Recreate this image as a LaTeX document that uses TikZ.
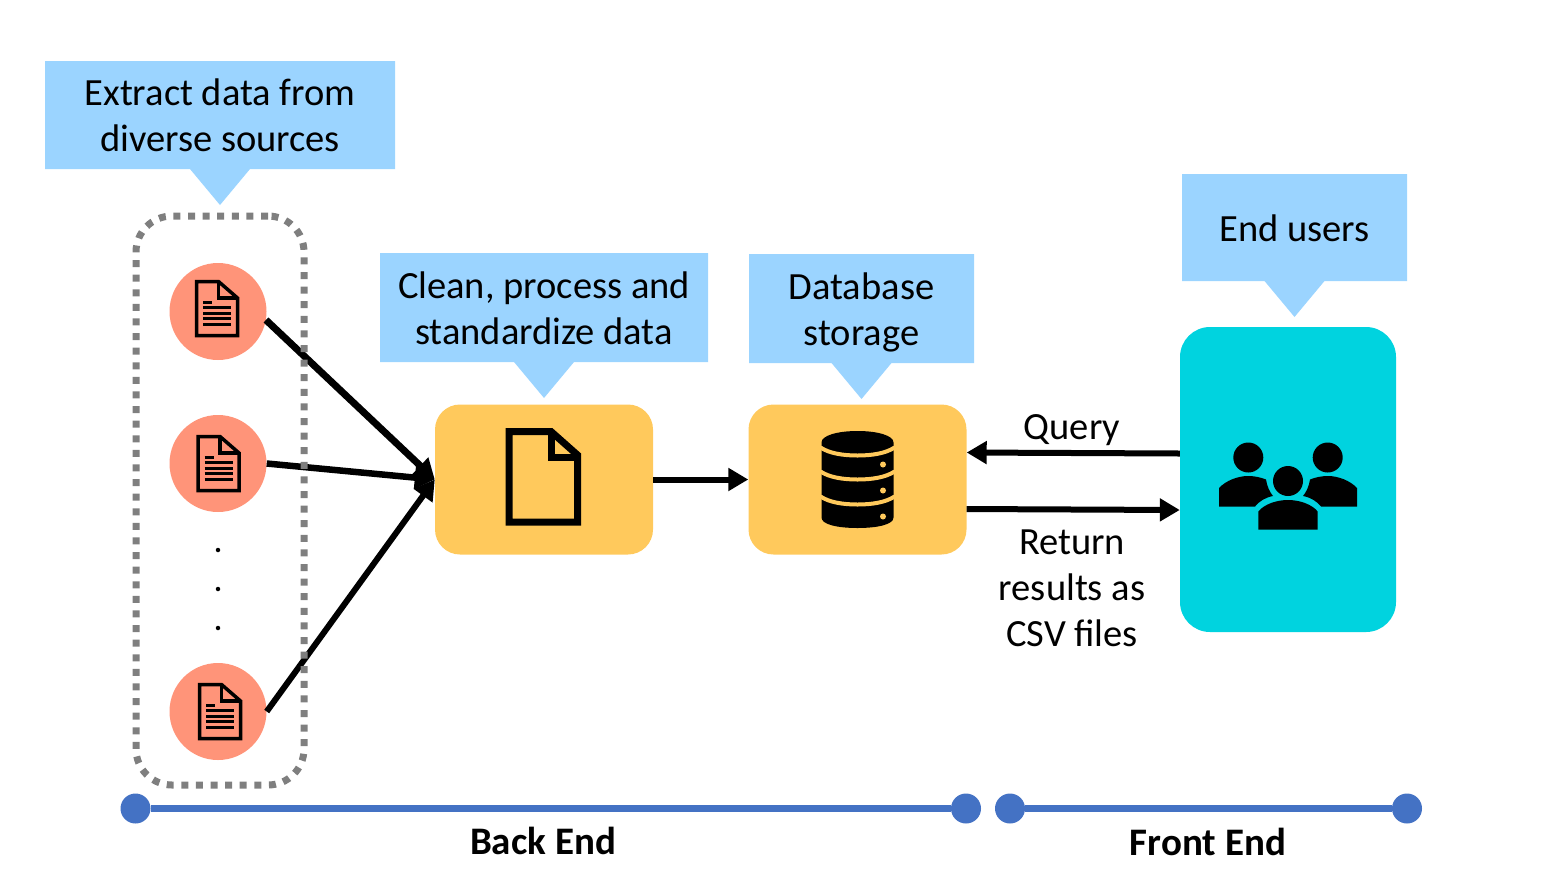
\documentclass[tikz,border=0pt]{standalone}
\usepackage{fontspec}
\setmainfont{Carlito}
\usepackage{tikz}
\usetikzlibrary{arrows.meta}
\usetikzlibrary{shapes.callouts}
\definecolor{noteblue}{HTML}{9BD4FF}
\definecolor{docred}{HTML}{FF9479}
\definecolor{stepyellow}{HTML}{FFC95C}
\definecolor{usercyan}{HTML}{00D3DF}
\definecolor{linkblue}{HTML}{4472C4}
\definecolor{framegray}{HTML}{7F7F7F}
\newcommand{\topstrut}{\rule[-13.8pt]{0pt}{55pt}}
\tikzset{
	note/.style={rectangle callout, fill=noteblue, callout pointer width=60pt, inner sep=0pt, text width=#1, align=flush center, font=\fontsize{38.5}{46}\selectfont},
	stepbox/.style={rectangle, fill=stepyellow, rounded corners=25pt, minimum width=218pt, minimum height=150pt},
	docnode/.style={circle, fill=docred, minimum size=97pt, inner sep=0pt},
	enddot/.style={circle, fill=linkblue, minimum size=30pt, inner sep=0pt},
	flow/.style={line width=6pt, -{Stealth[inset=0pt, length=20pt, width=22pt]}},
	caption/.style={align=center, font=\fontsize{38.5}{46}\selectfont},
	barlabel/.style={font=\fontsize{39}{46}\selectfont\bfseries},
	pics/docicon/.style={code={
		\draw[line width=3.5pt, miter limit=10] (-20.5,-27) -- (1.5,-27) -- (20.5,-10.5) -- (20.5,27) -- (-20.5,27) -- cycle;
		\draw[line width=3.5pt] (1.5,-27) -- (1.5,-10.5) -- (20.5,-10.5);
		\draw[line width=3pt] (-14,-6.5) -- (-5,-6.5);
		\foreach \y in {-1.5,4.5,10,15.5}
			\draw[line width=3pt] (-14,\y) -- (14,\y);
	}}
}

\begin{document}
\begin{tikzpicture}[x=1pt, y=-1pt]
	\useasboundingbox (0,0) rectangle (1557,876);

	% callouts
	\node[note=350pt, minimum width=350pt, minimum height=108pt, callout absolute pointer={(220,205)}] (extract) at (220,115) {\topstrut Extract data from\\\strut diverse sources};
	\node[note=328pt, minimum width=328pt, minimum height=109pt, callout absolute pointer={(544,398)}] (clean) at (544,307.5) {\topstrut Clean, process and\\\strut standardize data};
	\node[note=225pt, minimum width=225pt, minimum height=109pt, callout absolute pointer={(861.5,399)}] (storage) at (861.5,308.5) {\topstrut Database\\\strut storage};
	\node[note=225pt, minimum width=225pt, minimum height=107pt, callout absolute pointer={(1294.5,317)}] (endusers) at (1294.5,227.5) {\topstrut End users};

	% sources
	\node[docnode] (doc1) at (218,311.5) {};
	\node[docnode] (doc2) at (218,463.5) {};
	\node[docnode] (doc3) at (218,711.5) {};
	\pic at (217,308.5) {docicon};
	\pic at (218.5,463.5) {docicon};
	\pic at (220,711.5) {docicon};
	\begin{scope}[every node/.style={circle, fill=black, inner sep=0pt, minimum size=4.5pt}]
		\node (dot1) at (218,550) {};
		\node (dot2) at (218,589) {};
		\node (dot3) at (218,628) {};
	\end{scope}

	% main boxes
	\node[stepbox] (process) at (544,479.5) {};
	\node[stepbox] (db) at (857.5,479.5) {};
	\node[rectangle, fill=usercyan, rounded corners=30pt, minimum width=216pt, minimum height=305pt] (users) at (1288,479.5) {};

	% big file icon
	\begin{scope}[shift={(process.center)}]
		\draw[line width=7pt] (-35,-48) -- (7,-48) -- (33.5,-24.5) -- (33.5,42.5) -- (-35,42.5) -- cycle;
		\draw[line width=7pt] (7,-48) -- (7,-22.5) -- (33.5,-22.5);
	\end{scope}

	% database icon
	\begin{scope}[shift={(db.center)}]
		\fill[black] (-36,-37) .. controls (-36,-44) and (-20,-48.5) .. (0,-48.5) .. controls (20,-48.5) and (36,-44) .. (36,-37) -- (36,38) .. controls (36,45) and (20,48.5) .. (0,48.5) .. controls (-20,48.5) and (-36,45) .. (-36,38) -- cycle;
		\foreach \y in {-32,-8,17}
			\draw[stepyellow, line width=4pt] (-37,\y) .. controls (-28,\y+6) and (-14,\y+8) .. (0,\y+8) .. controls (14,\y+8) and (28,\y+6) .. (37,\y);
		\foreach \y in {-15,11,37}
			\fill[stepyellow] (25.5,\y) circle (3);
	\end{scope}

	% users icon
	\begin{scope}[shift={(users.center)}]
		\foreach \s in {-1,1} {
			\begin{scope}[xscale=\s]
				\fill[black] (-39.7,-22) circle (15);
				\fill[black] (-69,27) -- (-69,8.5) .. controls (-62,1) and (-50,-3.5) .. (-40,-3.5) .. controls (-33,-3.5) and (-27,-2) .. (-22,0) .. controls (-21,7) and (-18,13) .. (-15,16.5) .. controls (-23,18) and (-29,22) .. (-33,27) -- cycle;
			\end{scope}
		}
		\fill[black] (0,1.5) circle (15);
		\fill[black] (-29.7,50) -- (-29.7,32) .. controls (-24,25) and (-12,20.5) .. (0,20.5) .. controls (12,20.5) and (24,25) .. (29.7,32) -- (29.7,50) -- cycle;
	\end{scope}

	% connectors
	\coordinate (querystart) at (users.west |- 0,453.5);
	\coordinate (queryend) at (db.east |- 0,452.5);
	\coordinate (returnstart) at (db.east |- 0,509);
	\coordinate (returnend) at (users.west |- 0,510);
	\draw[flow, line width=7pt] (doc1.-10) -- (process.west);
	\draw[flow, line width=6.5pt] (doc2.east) -- (process.west);
	\draw[flow] (doc3.east) -- (process.west);
	\draw[flow] (process.east) -- (db.west);
	\draw[flow] (querystart) -- (queryend);
	\draw[flow] (returnstart) -- (returnend);

	% dotted frame on top of the arrows
	\node[rectangle, draw=framegray, line width=7pt, rounded corners=36pt, dash pattern=on 7pt off 7.6pt, minimum width=168pt, minimum height=569pt] (sources) at (220,500.5) {};

	\node[caption] (query) at (1072,430) {\strut Query};
	\node[caption] (results) at (1072,591) {\strut Return\\\strut results as\\\strut CSV files};

	% bottom bars
	\node[enddot] (backstart) at (135.5,808.5) {};
	\node[enddot] (backstop) at (966,808.5) {};
	\node[enddot] (frontstart) at (1010,808.5) {};
	\node[enddot] (frontstop) at (1407,808.5) {};
	\draw[linkblue, line width=7pt] (backstart) -- (backstop);
	\draw[linkblue, line width=7pt] (frontstart) -- (frontstop);
	\node[barlabel] (backend) at (543,841) {Back End};
	\node[barlabel] (frontend) at (1208,842) {Front End};
\end{tikzpicture}
\end{document}
